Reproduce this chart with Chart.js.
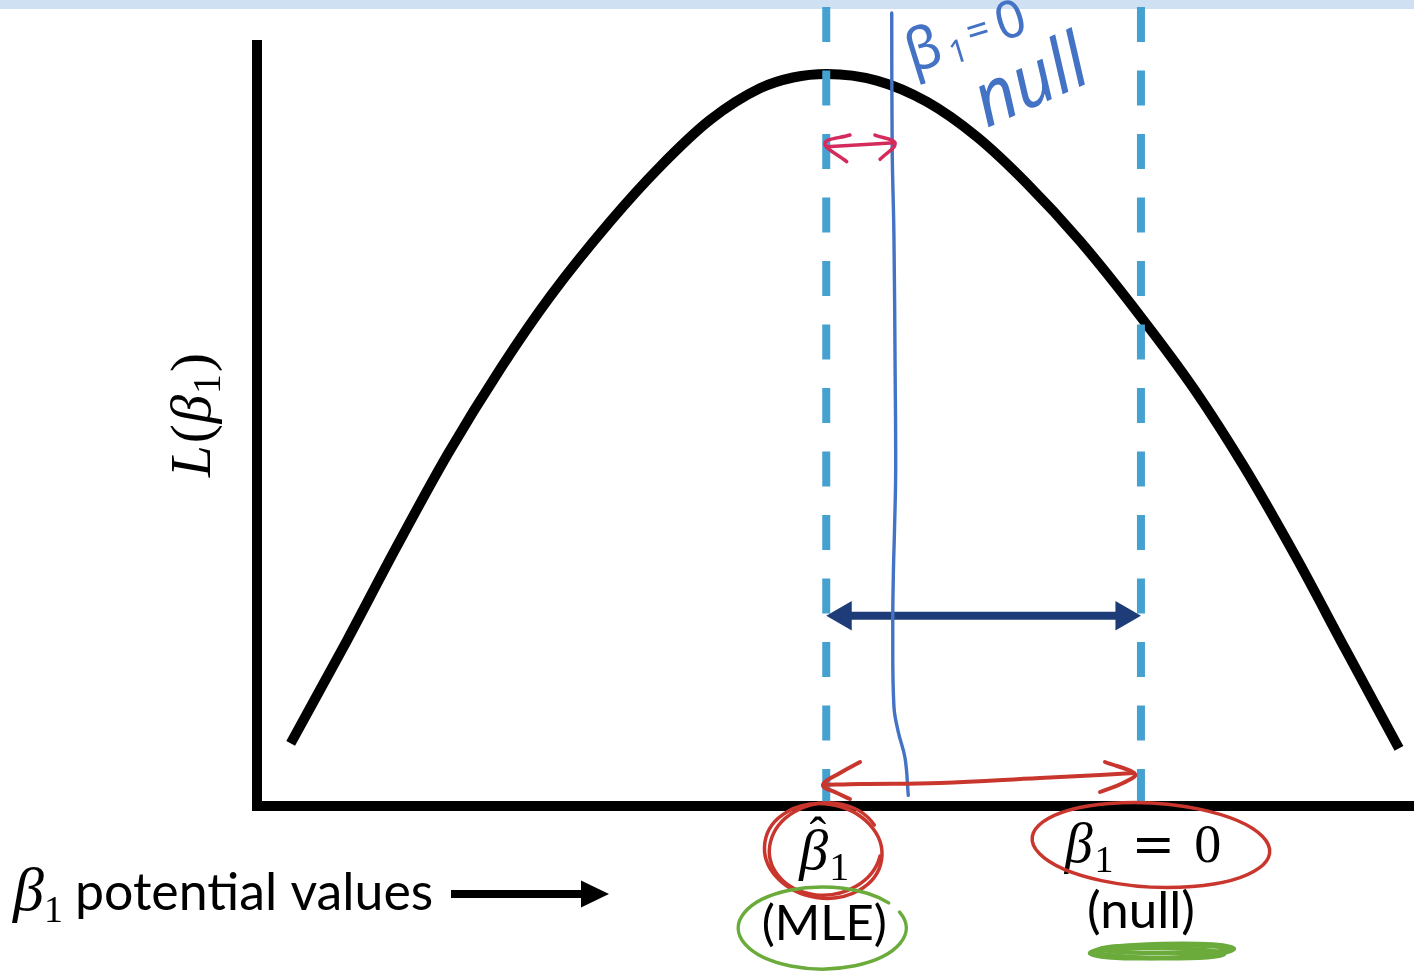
<!DOCTYPE html>
<html>
<head>
<meta charset="utf-8">
<script src="https://cdn.jsdelivr.net/npm/chart.js@4.4.1/dist/chart.umd.min.js"></script>
<style>
  html, body { margin: 0; padding: 0; background: #ffffff; overflow: hidden; }
  #wrap { position: relative; width: 1414px; height: 971px; }
</style>
</head>
<body>
<div id="wrap"><canvas id="c"></canvas></div>
<script>
// ---- data (x: β1 potential values, y: likelihood L(β1)) ----
const betaValues = [2.91, 7.80, 12.07, 16.53, 21.15, 25.32, 30.51, 34.83, 39.15, 43.47, 46.33, 49.24, 53.56, 57.88, 62.20, 66.52, 71.13, 76.38, 80.99, 85.31, 89.78, 94.10, 98.70];
const likelihood = [8.24, 21.81, 34.07, 46.35, 57.73, 66.93, 76.78, 84.01, 90.14, 94.31, 95.73, 96.19, 95.32, 92.55, 87.95, 81.83, 74.24, 64.30, 54.80, 44.59, 32.76, 20.50, 7.58];
const mleBeta = 49.2;
const nullBeta = 76.4;
const guideTopValue = 105;
const spanArrowValue = 25;
const spanArrowHeadOffset = 1.47;

// hand-drawn blue pen stroke (β1 = 0 null)
const penStrokeX = [54.86, 54.9, 55.05, 55.15, 55.2, 55.1, 55.0, 54.95, 55.05, 55.43, 56.01, 56.29];
const penStrokeY = [104.2, 86.2, 75.0, 57.8, 44.0, 36.3, 30.4, 23.4, 13.1, 9.7, 6.3, 1.4];

// hand-drawn red double arrow near the axis
const redShaftX = [48.92, 52.12, 59.03, 67.67, 72.86, 75.80];
const redShaftY = [2.76, 2.89, 3.02, 3.68, 4.07, 4.34];
const redHeadLeftX = [52.12, 50.39, 48.92, 50.13, 51.25];
const redHeadLeftY = [5.78, 4.34, 2.76, 1.71, 0.92];
const redHeadRightX = [73.29, 75.89, 74.85, 72.86];
const redHeadRightY = [5.78, 4.2, 3.02, 1.84];

// hand-drawn pink double arrow near the peak
const pinkShaftX = [49.24, 52.2, 55.14];
const pinkShaftY = [86.64, 86.9, 87.16];
const pinkHeadLeftX = [51.25, 49.09, 50.97];
const pinkHeadLeftY = [88.17, 87.08, 84.67];
const pinkHeadRightX = [53.41, 55.14, 53.85];
const pinkHeadRightY = [88.17, 87.08, 84.98];

// text labels
const yAxisLabel = ['L', '(', 'β', '1', ')'];
const xAxisLabel = 'potential values';
const mleLabel = '(MLE)';
const nullLabel = '(null)';
const penLabel1 = 'β';
const penLabel2 = 'null';

const zip = (xs, ys) => xs.map((x, i) => ({ x: x, y: ys[i] }));

const SERIF = '"Liberation Serif", "DejaVu Serif", serif';
const SANS = 'Lato, "Open Sans", "Noto Sans", sans-serif';

function fitFont(ctx, text, family, target) {
  ctx.font = '100px ' + family;
  const w = ctx.measureText(text).width;
  return (100 * target / w).toFixed(1) + 'px ' + family;
}

function drawRuns(ctx, runs, x, y, align) {
  let total = 0;
  runs.forEach(r => { ctx.font = r.font; r.w = ctx.measureText(r.t).width; total += (r.gap || 0) + r.w; });
  let cx = align === 'center' ? x - total / 2 : x;
  ctx.textAlign = 'left';
  ctx.textBaseline = 'alphabetic';
  runs.forEach(r => {
    cx += r.gap || 0;
    ctx.font = r.font;
    ctx.fillText(r.t, cx, y + (r.dy || 0));
    r.x = cx;
    cx += r.w;
  });
  return runs;
}

const decorPlugin = {
  id: 'decor',
  beforeDraw(chart) {
    const ctx = chart.ctx;
    ctx.save();
    ctx.fillStyle = '#ffffff';
    ctx.fillRect(0, 0, chart.width, chart.height);
    ctx.fillStyle = '#cfe0f2';
    ctx.fillRect(0, 0, chart.width, 9);
    ctx.restore();
  },
  afterDraw(chart) {
    const ctx = chart.ctx;
    const xs = chart.scales.x, ys = chart.scales.y;
    const xm = xs.getPixelForValue(mleBeta);
    const xn = xs.getPixelForValue(nullBeta);
    const y0 = ys.getPixelForValue(0);
    ctx.save();

    // ---- black labels ----
    ctx.fillStyle = '#000000';
    // y-axis label L(β1), rotated
    ctx.save();
    ctx.translate(210, 415);
    ctx.rotate(-Math.PI / 2);
    drawRuns(ctx, [
      { t: yAxisLabel[0], font: 'italic 57px ' + SERIF },
      { t: yAxisLabel[1], font: '57px ' + SERIF, gap: 2 },
      { t: yAxisLabel[2], font: 'italic 57px ' + SERIF, gap: 1 },
      { t: yAxisLabel[3], font: '40px ' + SERIF, dy: 10, gap: 1 },
      { t: yAxisLabel[4], font: '57px ' + SERIF, gap: 2 }
    ], 0, 0, 'center');
    ctx.restore();

    // x-axis label β1 potential values →
    drawRuns(ctx, [
      { t: 'β', font: 'italic 62px ' + SERIF },
      { t: '1', font: '38px ' + SERIF, dy: 12, gap: 0 }
    ], 13, 910, 'left');
    ctx.font = fitFont(ctx, xAxisLabel, SANS, 358);
    ctx.textAlign = 'left';
    ctx.fillText(xAxisLabel, 75, 910);
    ctx.fillRect(451, 890, 131, 8);
    ctx.beginPath();
    ctx.moveTo(609, 894); ctx.lineTo(581, 880.5); ctx.lineTo(581, 907.5); ctx.closePath();
    ctx.fill();

    // β̂1 (MLE)
    const mr = drawRuns(ctx, [
      { t: 'β', font: 'italic 58px ' + SERIF },
      { t: '1', font: '40px ' + SERIF, dy: 11, gap: 1 }
    ], xm - 2, y0 + 63, 'center');
    ctx.font = '50px ' + SERIF;
    ctx.textAlign = 'center';
    ctx.fillText('ˆ', mr[0].x + mr[0].w / 2 + 4, y0 + 46);
    ctx.font = fitFont(ctx, mleLabel, SANS, 125);
    ctx.fillText(mleLabel, xm - 2, y0 + 134);

    // β1 = 0 (null)
    drawRuns(ctx, [
      { t: 'β', font: 'italic 56px ' + SERIF },
      { t: '1', font: '38px ' + SERIF, dy: 10, gap: 2 },
      { t: '=', font: '52px "DejaVu Serif", serif', gap: 18 },
      { t: '0', font: '54px ' + SERIF, gap: 19 }
    ], xn + 2, y0 + 56, 'center');
    ctx.font = fitFont(ctx, nullLabel, SANS, 108);
    ctx.textAlign = 'center';
    ctx.fillText(nullLabel, xn, y0 + 122);
    ctx.textAlign = 'left';

    // ---- handwritten blue note ----
    ctx.fillStyle = '#4472c4';
    ctx.save();
    ctx.translate(912, 73);
    ctx.rotate(-0.3);
    drawRuns(ctx, [
      { t: penLabel1, font: '58px "Noto Sans", sans-serif' },
      { t: '1', font: '32px "Noto Sans", sans-serif', dy: 4, gap: 6 },
      { t: '=', font: '40px "Noto Sans", sans-serif', dy: -8, gap: 4 },
      { t: '0', font: '52px "Noto Sans", sans-serif', dy: -4, gap: 8 }
    ], 0, 0, 'left');
    ctx.restore();
    ctx.save();
    ctx.translate(987, 128);
    ctx.rotate(-0.42);
    ctx.scale(0.92, 1);
    ctx.font = 'italic 76px "Noto Sans", sans-serif';
    ctx.fillText(penLabel2, 0, 0);
    ctx.restore();

    // ---- hand-drawn circles ----
    ctx.lineCap = 'round';
    ctx.lineJoin = 'round';
    ctx.strokeStyle = '#c9362e';
    ctx.lineWidth = 3.5;
    ctx.beginPath();
    ctx.ellipse(xm - 3, y0 + 45, 59, 47, 0.15, 0, Math.PI * 2);
    ctx.stroke();
    ctx.beginPath();
    ctx.ellipse(xm - 1, y0 + 43, 56, 46, -0.12, 0.3, Math.PI * 2 - 0.4);
    ctx.stroke();
    ctx.beginPath();
    ctx.ellipse(xn + 10, y0 + 39, 119, 42, 0.06, 3.55, 3.55 + Math.PI * 2 + 0.25);
    ctx.stroke();

    ctx.strokeStyle = '#6bab3c';
    ctx.lineWidth = 3.5;
    ctx.beginPath();
    ctx.ellipse(xm - 4, y0 + 122, 84, 41, 0, -0.4, Math.PI * 2 - 0.66);
    ctx.stroke();
    // green scribble under (null)
    ctx.lineWidth = 4.5;
    ctx.beginPath();
    ctx.ellipse(xn + 21, y0 + 145, 72, 7, -0.03, 0, Math.PI * 2);
    ctx.stroke();
    ctx.beginPath();
    ctx.ellipse(xn + 19, y0 + 147, 64, 5, 0.02, 0, Math.PI * 2);
    ctx.stroke();
    ctx.beginPath();
    ctx.ellipse(xn + 24, y0 + 143, 66, 4, 0, 0, Math.PI * 2);
    ctx.stroke();

    ctx.restore();
  }
};

const guideStyle = {
  borderColor: '#45a1cf', borderWidth: 8, borderDash: [35, 28.5], borderCapStyle: 'butt',
  pointRadius: 0, clip: false, order: 9
};
const redStyle = { borderColor: '#c9362e', borderWidth: 4, pointRadius: 0, tension: 0.4, borderCapStyle: 'round', borderJoinStyle: 'round', clip: false, order: 2 };
const pinkStyle = { borderColor: '#d52b5c', borderWidth: 3.5, pointRadius: 0, tension: 0.4, borderCapStyle: 'round', borderJoinStyle: 'round', clip: false, order: 1 };

new Chart(document.getElementById('c'), {
  type: 'line',
  data: {
    datasets: [
      { data: zip(betaValues, likelihood), borderColor: '#000000', borderWidth: 10, cubicInterpolationMode: 'monotone',
        pointRadius: 0, borderCapStyle: 'butt', borderJoinStyle: 'round', clip: false, order: 10 },
      Object.assign({ data: [{ x: mleBeta, y: guideTopValue }, { x: mleBeta, y: 0 }] }, guideStyle),
      Object.assign({ data: [{ x: nullBeta, y: guideTopValue }, { x: nullBeta, y: 0 }] }, guideStyle),
      { data: [{ x: mleBeta + spanArrowHeadOffset, y: spanArrowValue }, { x: nullBeta - spanArrowHeadOffset, y: spanArrowValue }],
        borderColor: '#1e3c78', borderWidth: 8, borderCapStyle: 'butt',
        pointStyle: 'triangle', pointRadius: 17, pointRotation: [-90, 90],
        pointBackgroundColor: '#1e3c78', pointBorderWidth: 0, clip: false, order: 8 },
      { data: zip(penStrokeX, penStrokeY), borderColor: '#4472c4', borderWidth: 3.4, pointRadius: 0, tension: 0.4,
        borderCapStyle: 'round', clip: false, order: 7 },
      Object.assign({ data: zip(redShaftX, redShaftY) }, redStyle),
      Object.assign({ data: zip(redHeadLeftX, redHeadLeftY) }, redStyle),
      Object.assign({ data: zip(redHeadRightX, redHeadRightY) }, redStyle),
      Object.assign({ data: zip(pinkShaftX, pinkShaftY) }, pinkStyle),
      Object.assign({ data: zip(pinkHeadLeftX, pinkHeadLeftY) }, pinkStyle),
      Object.assign({ data: zip(pinkHeadRightX, pinkHeadRightY) }, pinkStyle)
    ]
  },
  options: {
    responsive: true,
    maintainAspectRatio: false,
    animation: false,
    events: [],
    layout: { autoPadding: false, padding: { left: 257, right: 0, top: 45, bottom: 165 } },
    plugins: { legend: { display: false }, tooltip: { enabled: false } },
    scales: {
      x: {
        type: 'linear', min: 0, max: 100,
        grid: { display: false, drawTicks: false, tickLength: 0, lineWidth: 10 },
        ticks: { display: false },
        border: { display: true, color: '#000000', width: 10 }
      },
      y: {
        type: 'linear', min: 0, max: 100,
        grid: { display: false, drawTicks: false, tickLength: 0, lineWidth: 10 },
        ticks: { display: false },
        border: { display: true, color: '#000000', width: 10 }
      }
    }
  },
  plugins: [decorPlugin]
});
</script>
</body>
</html>
